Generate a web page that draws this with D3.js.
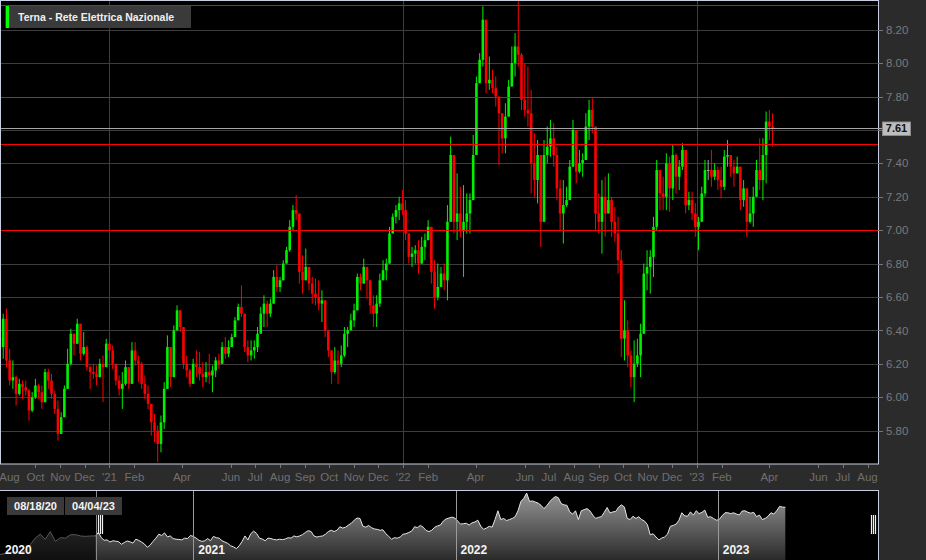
<!DOCTYPE html>
<html><head><meta charset="utf-8">
<script src="https://cdn.jsdelivr.net/npm/d3@7"></script>
<style>
html,body{margin:0;padding:0;background:#2b2b2b;overflow:hidden;}
svg{display:block;}
text{font-family:"Liberation Sans",Arial,sans-serif;}
</style></head><body>
<svg id="chart" width="926" height="560"></svg>
<script>
// ---------------- DATA ----------------
const title = "Terna - Rete Elettrica Nazionale";
const barStart = "2020-08-18";
const barStepDays = 4;
const highs = [6.42,6.50,6.53,6.29,6.22,6.13,6.11,6.10,6.10,6.05,6.03,6.11,6.08,6.07,6.17,6.17,6.14,6.04,5.98,5.91,
6.07,6.29,6.41,6.37,6.47,6.35,6.39,6.31,6.19,6.20,6.19,6.23,6.25,6.35,6.33,6.31,6.17,6.13,6.15,6.22,
6.17,6.33,6.33,6.25,6.21,6.13,6.07,5.95,5.90,5.83,5.89,6.09,6.37,6.25,6.43,6.55,6.52,6.30,6.25,6.17,
6.23,6.28,6.27,6.21,6.21,6.26,6.19,6.24,6.26,6.33,6.36,6.34,6.38,6.48,6.56,6.67,6.45,6.34,6.34,6.34,
6.42,6.54,6.61,6.58,6.59,6.76,6.79,6.72,6.82,6.90,7.06,7.15,7.21,7.08,6.85,6.89,6.78,6.72,6.71,6.70,
6.64,6.48,6.40,6.26,6.30,6.28,6.31,6.42,6.42,6.50,6.56,6.74,6.74,6.83,6.76,6.64,6.61,6.61,6.74,6.82,
6.83,7.02,7.10,7.15,7.20,7.24,7.18,6.94,6.90,6.91,6.94,6.96,6.98,7.06,6.96,6.82,6.80,6.78,6.80,7.15,
7.56,7.30,7.34,7.26,7.27,7.22,7.22,7.57,7.92,8.06,8.34,8.12,8.04,7.96,7.92,7.80,7.70,7.76,7.90,8.10,
8.18,8.37,8.06,8.00,7.98,7.84,7.58,7.54,7.26,7.54,7.62,7.66,7.64,7.50,7.30,7.30,7.26,7.42,7.66,7.50,
7.48,7.46,7.70,7.78,7.79,7.58,7.22,7.30,7.32,7.34,7.20,7.14,7.08,6.88,6.58,6.46,6.28,6.34,6.35,6.44,
6.80,6.88,6.88,7.08,7.42,7.30,7.32,7.46,7.44,7.51,7.46,7.42,7.52,7.48,7.23,7.23,7.16,7.08,7.26,7.42,
7.42,7.48,7.40,7.38,7.38,7.48,7.54,7.42,7.42,7.44,7.34,7.30,7.24,7.20,7.26,7.42,7.55,7.55,7.71,7.72,
7.70];
const lows = [6.24,6.23,6.18,6.07,6.05,5.95,6.01,5.99,6.01,5.86,5.91,5.99,5.99,5.93,6.03,6.05,5.99,5.90,5.74,5.81,
5.88,6.05,6.19,6.25,6.35,6.22,6.25,6.16,6.05,6.11,6.07,6.13,5.97,6.25,6.23,6.17,6.07,6.01,5.93,6.07,
6.05,6.13,6.19,6.09,6.05,5.99,5.93,5.77,5.73,5.61,5.67,5.81,6.10,6.06,6.25,6.43,6.39,6.17,6.12,6.06,
6.13,6.12,6.10,6.06,6.09,6.08,6.03,6.12,6.17,6.24,6.23,6.24,6.30,6.39,6.49,6.48,6.27,6.21,6.22,6.23,
6.27,6.39,6.42,6.42,6.48,6.60,6.63,6.63,6.72,6.81,6.87,7.00,7.06,6.68,6.62,6.73,6.64,6.56,6.55,6.52,
6.45,6.36,6.24,6.08,6.14,6.08,6.18,6.24,6.30,6.40,6.42,6.55,6.64,6.68,6.59,6.50,6.42,6.42,6.54,6.72,
6.70,6.88,7.00,7.04,7.06,7.09,6.94,6.80,6.78,6.80,6.74,6.82,6.82,6.94,6.68,6.53,6.58,6.66,6.64,6.58,
7.10,6.98,6.94,6.96,6.72,6.98,6.98,7.18,7.70,7.88,7.98,7.82,7.84,7.82,7.74,7.39,7.46,7.46,7.70,7.90,
7.92,7.98,7.72,7.68,7.62,7.22,7.20,7.16,6.90,7.20,7.40,7.44,7.38,7.18,7.00,6.92,7.14,7.26,7.50,7.28,
7.34,7.32,7.44,7.54,7.58,7.00,6.98,6.86,6.96,7.12,6.96,6.93,6.74,6.24,6.22,6.18,6.06,5.97,6.18,6.12,
6.50,6.64,6.62,6.72,7.00,7.12,7.12,7.12,7.11,7.18,7.22,7.24,7.36,7.10,7.12,7.06,6.96,6.88,7.06,7.20,
7.30,7.26,7.30,7.24,7.19,7.24,7.38,7.32,7.26,7.34,7.12,7.14,6.96,7.04,7.02,7.22,7.24,7.18,7.28,7.54,
7.50];
const closes = [6.30,6.47,6.22,6.10,6.12,6.02,6.08,6.06,6.04,5.92,6.00,6.07,6.03,5.97,6.15,6.10,6.02,5.93,5.78,5.88,
6.05,6.20,6.38,6.32,6.44,6.26,6.30,6.18,6.15,6.14,6.12,6.20,6.18,6.32,6.28,6.20,6.10,6.05,6.08,6.18,
6.08,6.28,6.22,6.20,6.08,6.02,5.96,5.85,5.80,5.72,5.85,6.05,6.30,6.12,6.40,6.52,6.42,6.20,6.16,6.08,
6.20,6.18,6.14,6.12,6.15,6.13,6.16,6.22,6.20,6.30,6.26,6.30,6.36,6.46,6.54,6.50,6.30,6.25,6.28,6.30,
6.38,6.50,6.56,6.50,6.56,6.72,6.66,6.70,6.80,6.88,7.02,7.12,7.10,6.75,6.70,6.78,6.68,6.62,6.60,6.56,
6.58,6.40,6.28,6.15,6.22,6.20,6.25,6.38,6.40,6.46,6.52,6.72,6.68,6.78,6.70,6.55,6.50,6.56,6.70,6.76,
6.80,6.98,7.08,7.12,7.16,7.12,6.98,6.84,6.86,6.88,6.80,6.90,6.94,7.02,6.75,6.60,6.66,6.74,6.70,7.05,
7.45,7.05,7.10,7.00,7.05,7.10,7.18,7.45,7.88,8.02,8.26,7.88,7.90,7.85,7.80,7.70,7.55,7.68,7.86,8.00,
8.10,8.05,7.78,7.72,7.70,7.40,7.30,7.45,7.05,7.45,7.50,7.55,7.45,7.25,7.10,7.15,7.18,7.38,7.60,7.35,
7.40,7.42,7.62,7.72,7.62,7.10,7.05,7.20,7.10,7.18,7.05,6.98,6.82,6.35,6.40,6.25,6.12,6.20,6.25,6.38,
6.74,6.78,6.84,7.02,7.36,7.22,7.20,7.40,7.25,7.45,7.32,7.38,7.48,7.15,7.18,7.10,7.02,7.05,7.22,7.36,
7.36,7.32,7.36,7.30,7.26,7.44,7.45,7.38,7.34,7.38,7.18,7.25,7.05,7.10,7.20,7.36,7.30,7.45,7.65,7.62,
7.61];
const firstOpen = 6.36;
// navigator-only history before the visible window
const navPreStart = "2020-04-07";
const navPreStepDays = 7;
const navPreCloses = [5.45,5.50,5.55,5.58,5.55,5.62,5.90,6.20,6.38,6.15,6.50,6.05,6.22,6.20,6.35,6.36,6.30,6.28,6.30];
const levels = [8.35, 7.795, 7.515, 7.00];
const lastPrice = 7.61;
const yTicks = [5.80,6.00,6.20,6.40,6.60,6.80,7.00,7.20,7.40,7.60,7.80,8.00,8.20];
const xTickDates = ["2020-08-01","2020-10-01","2020-11-01","2020-12-01","2021-01-01","2021-02-01","2021-04-01","2021-06-01","2021-07-01","2021-08-01","2021-09-01","2021-10-01","2021-11-01","2021-12-01","2022-01-01","2022-02-01","2022-04-01","2022-06-01","2022-07-01","2022-08-01","2022-09-01","2022-10-01","2022-11-01","2022-12-01","2023-01-01","2023-02-01","2023-04-01","2023-06-01","2023-07-01","2023-08-01"];
const xTickLabels = ["Aug","Oct","Nov","Dec","'21","Feb","Apr","Jun","Jul","Aug","Sep","Oct","Nov","Dec","'22","Feb","Apr","Jun","Jul","Aug","Sep","Oct","Nov","Dec","'23","Feb","Apr","Jun","Jul","Aug"];
const yearLines = ["2021-01-01","2022-01-01","2023-01-01"];
const navYearDates = ["2020-01-01","2021-01-01","2022-01-01","2023-01-01"];
const navYearLabels = ["2020","2021","2022","2023"];
const rangeLabels = ["08/18/20","04/04/23"];
const selection = ["2020-08-18","2023-08-14"];

// ---------------- LAYOUT ----------------
const W = 926, H = 560;
const P = {l:0, r:878, t:1, b:464};
const N = {t:490, b:560};
const parse = d3.utcParse("%Y-%m-%d");
const svg = d3.select("#chart");

const bars = closes.map((c,i)=>({
  date: d3.utcDay.offset(parse(barStart), i*barStepDays),
  o: i===0 ? firstOpen : closes[i-1], h: highs[i], l: lows[i], c
}));

const x = d3.scaleUtc().domain([parse("2020-08-18"), parse("2023-08-14")]).range([P.l, P.r]);
const y = d3.scaleLinear().domain([5.6, 8.372]).range([P.b, P.t]);
const py = v => Math.round(y(v)) + 0.5;

// backgrounds
svg.append("rect").attr("width",W).attr("height",H).attr("fill","#2b2b2b");
svg.append("rect").attr("x",P.l).attr("y",P.t).attr("width",P.r-P.l).attr("height",P.b-P.t).attr("fill","#000");

svg.append("defs").append("clipPath").attr("id","plotclip")
  .append("rect").attr("x",P.l).attr("y",P.t).attr("width",P.r-P.l).attr("height",P.b-P.t);

// grid
const grid = svg.append("g");
grid.selectAll("line").data(yTicks).join("line")
  .attr("x1",P.l).attr("x2",P.r).attr("y1",py).attr("y2",py)
  .attr("stroke","#3d3d3d").attr("stroke-width",1);
const vgrid = svg.append("g");
vgrid.selectAll("line").data(yearLines).join("line")
  .attr("x1",d=>Math.round(x(parse(d)))+0.5).attr("x2",d=>Math.round(x(parse(d)))+0.5)
  .attr("y1",P.t).attr("y2",P.b).attr("stroke","#3d3d3d");

// candles
const plot = svg.append("g").attr("clip-path","url(#plotclip)");
const col = d => d.c > d.o ? "#00f000" : (d.c < d.o ? "#ff0000" : "#a0a0a0");
const cg = plot.selectAll("g").data(bars).join("g");
cg.append("line")
  .attr("x1",d=>x(d.date)).attr("x2",d=>x(d.date))
  .attr("y1",d=>y(Math.max(d.h,d.o,d.c))).attr("y2",d=>y(Math.min(d.l,d.o,d.c)))
  .attr("stroke",col).attr("stroke-width",1);
cg.append("rect")
  .attr("x",d=>x(d.date)-1.3).attr("width",2.6)
  .attr("y",d=>y(Math.max(d.o,d.c)))
  .attr("height",d=>Math.max(1, Math.abs(y(d.o)-y(d.c))))
  .attr("fill",col);

// plot border
svg.append("rect").attr("x",P.l+0.5).attr("y",P.t-0.5).attr("width",P.r-P.l).attr("height",P.b-P.t+0.5)
  .attr("fill","none").attr("stroke","#c9cde0").attr("stroke-width",1);

// support / resistance levels
const lv = svg.append("g");
lv.selectAll("line").data(levels).join("line")
  .attr("x1",P.l+1).attr("x2",P.r).attr("y1",py).attr("y2",py)
  .attr("stroke","#ff0000").attr("stroke-width",1);
// last price line
svg.append("line").attr("x1",P.l+1).attr("x2",883).attr("y1",py(lastPrice)).attr("y2",py(lastPrice))
  .attr("stroke","#a8a8a8").attr("stroke-width",1);

// y axis (the label nearest the last price is hidden behind the price tag)
const ya = svg.append("g");
ya.selectAll("line").data(yTicks).join("line")
  .attr("x1",P.r).attr("x2",P.r+5).attr("y1",py).attr("y2",py)
  .attr("stroke","#777");
ya.selectAll("text").data(yTicks.filter(d=>Math.abs(y(d)-y(lastPrice))>12)).join("text")
  .attr("x",P.r+8).attr("y",d=>y(d)).attr("dy","0.36em")
  .attr("fill","#7a7a7a").attr("font-size","11.5px").text(d=>d.toFixed(2));

// last price label
const lp = svg.append("g");
lp.append("rect").attr("x",882.5).attr("y",Math.round(y(lastPrice))-6).attr("width",28).attr("height",13.5)
  .attr("fill","#bdbdbd").attr("stroke","#8a8a8a");
lp.append("text").attr("x",896.5).attr("y",y(lastPrice)).attr("dy","0.36em").attr("text-anchor","middle")
  .attr("font-size","11px").attr("font-weight","bold").attr("fill","#111").text(lastPrice.toFixed(2));

// x axis
const xa = svg.append("g");
const xt = xTickDates.map((d,i)=>({x:x(parse(d)), label:xTickLabels[i]}));
xa.selectAll("line").data(xt.filter(d=>d.x>0)).join("line")
  .attr("x1",d=>Math.round(d.x)+0.5).attr("x2",d=>Math.round(d.x)+0.5).attr("y1",P.b+1).attr("y2",P.b+4)
  .attr("stroke","#777");
xa.selectAll("text").data(xt).join("text")
  .attr("x",d=>Math.max(9.5,d.x)).attr("y",481).attr("text-anchor","middle")
  .attr("fill","#6f6f6f").attr("font-size","11.5px").text(d=>d.label);

// legend
const lg = svg.append("g");
lg.append("rect").attr("x",5).attr("y",6).attr("width",186).attr("height",22).attr("fill","#3a3a3a");
lg.append("rect").attr("x",6).attr("y",6).attr("width",3).attr("height",22).attr("fill","#00ff00");
lg.append("text").attr("x",18).attr("y",21).attr("fill","#f0f0f0").attr("font-size","10.5px")
  .attr("font-weight","bold").text(title);

// ---------------- NAVIGATOR ----------------
const nx = d3.scaleUtc().domain([parse("2020-04-07"), parse("2023-08-12")]).range([0, 878]);
const ny = d3.scaleLinear().domain([5.2, 8.4]).range([N.b, N.t]);
const navData = navPreCloses.map((c,i)=>({date:d3.utcDay.offset(parse(navPreStart), i*navPreStepDays), c}))
  .concat(bars.map(b=>({date:b.date, c:b.c})));
const ng = svg.append("g");
ng.append("rect").attr("x",0).attr("y",N.t).attr("width",878).attr("height",N.b-N.t).attr("fill","#000");
const grad = svg.select("defs").append("linearGradient").attr("id","navgrad")
  .attr("gradientUnits","userSpaceOnUse").attr("x1",0).attr("x2",0).attr("y1",N.t).attr("y2",N.b);
grad.append("stop").attr("offset",0).attr("stop-color","#9a9a9a");
grad.append("stop").attr("offset",1).attr("stop-color","#2a2a2a");
ng.append("path").datum(navData)
  .attr("d",d3.area().x(d=>nx(d.date)).y0(N.b).y1(d=>ny(d.c)))
  .attr("fill","url(#navgrad)");
ng.append("path").datum(navData)
  .attr("d",d3.line().x(d=>nx(d.date)).y(d=>ny(d.c)))
  .attr("fill","none").attr("stroke","#e6e6e6").attr("stroke-width",1);
// year separators
ng.selectAll("line.yr").data(navYearDates.slice(1)).join("line")
  .attr("x1",d=>Math.round(nx(parse(d)))+0.5).attr("x2",d=>Math.round(nx(parse(d)))+0.5)
  .attr("y1",N.t).attr("y2",N.b).attr("stroke","#9a9a9a");
// unselected mask
const selX0 = nx(parse(selection[0]));
ng.append("rect").attr("x",0).attr("y",N.t).attr("width",selX0).attr("height",N.b-N.t)
  .attr("fill","#000").attr("opacity",0.62);
ng.append("line").attr("x1",Math.round(selX0)+0.5).attr("x2",Math.round(selX0)+0.5)
  .attr("y1",N.t).attr("y2",N.b).attr("stroke","#8a8a8a");
// year labels
ng.selectAll("text.yr").data(navYearDates).join("text")
  .attr("x",d=>Math.max(5, nx(parse(d))+5)).attr("y",554)
  .attr("fill","#f4f4f4").attr("font-size","12px").attr("font-weight","bold")
  .text((d,i)=>navYearLabels[i]);
// handles
const hx = [98.5,100.5,102.5, 871.5,873.5,875.5];
ng.selectAll("line.hd").data(hx).join("line")
  .attr("x1",d=>d).attr("x2",d=>d).attr("y1",515).attr("y2",534)
  .attr("stroke","#f0f0f0").attr("stroke-width",1.2);
// range labels
const rl = ng.selectAll("g.rl").data(rangeLabels).join("g")
  .attr("transform",(d,i)=>`translate(${7+i*58},497)`);
rl.append("rect").attr("width",57).attr("height",18).attr("fill","#3a3a3a");
rl.append("text").attr("x",28.5).attr("y",13).attr("text-anchor","middle")
  .attr("fill","#f4f4f4").attr("font-size","11px").attr("font-weight","bold").text(d=>d);
// navigator border
ng.append("line").attr("x1",0).attr("x2",878.5).attr("y1",N.t+0.5).attr("y2",N.t+0.5).attr("stroke","#c9cde0");
ng.append("line").attr("x1",878.5).attr("x2",878.5).attr("y1",N.t).attr("y2",N.b).attr("stroke","#c9cde0");
</script>
</body></html>
